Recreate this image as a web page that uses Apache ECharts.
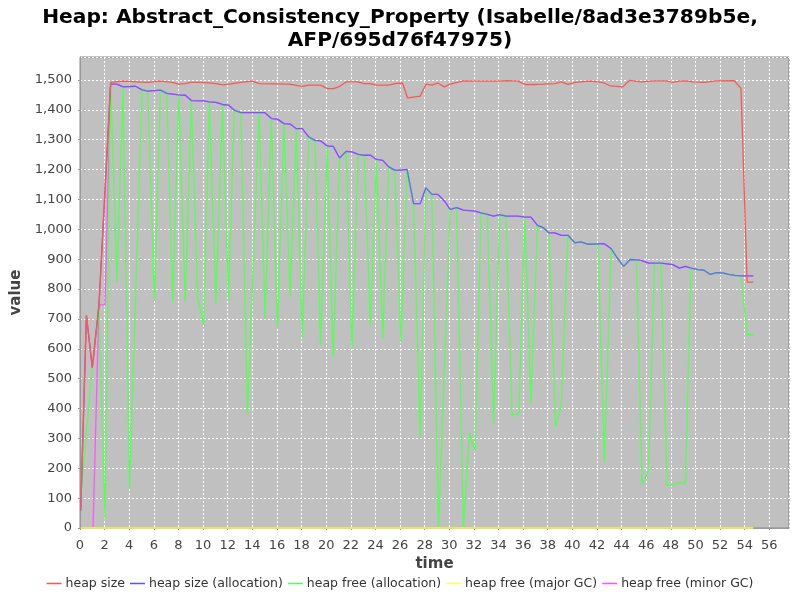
<!DOCTYPE html>
<html>
<head>
    <meta charset="utf-8">
    <title>Heap: Abstract_Consistency_Property</title>
    <script src="https://cdn.jsdelivr.net/npm/echarts@6/dist/echarts.min.js"></script>
    <style>
        html, body { margin: 0; padding: 0; background: #fff; }
    </style>
</head>
<body>
    <div id="main" style="width: 800px;height:600px;"></div>
    <script type="text/javascript">
        // heap size
        var sizeT = [0.06, 0.52, 1.0, 1.54, 2.49, 3.5, 4.5, 5.5, 6.5, 7.5, 8.0, 8.56, 9.0, 10.0, 11.04, 11.6, 12.1, 13.07, 14.0, 14.55,
            16.98, 18.06, 18.6, 19.55, 20.1, 20.6, 21.1, 21.65, 22.5, 23.1, 23.54, 24.08, 25.08, 25.6, 26.2, 26.62, 27.64, 28.1, 28.6, 29.08,
            29.6, 30.07, 31.15, 32.1, 34.0, 34.66, 35.6, 36.14, 36.95, 37.6, 38.58, 39.1, 39.64, 40.2, 41.4, 42.08, 42.6, 43.1, 44.1, 44.65,
            45.6, 46.67, 47.6, 48.16, 48.7, 49.2, 49.8, 50.7, 51.7, 53.15, 53.7, 54.2, 54.7];
        var sizeV = [59, 712, 537, 746, 1492, 1496, 1494, 1492, 1496, 1492, 1486, 1488, 1492, 1492, 1488, 1484, 1486, 1492, 1496, 1488,
            1486, 1479, 1483, 1483, 1471, 1471, 1479, 1494, 1494, 1488, 1488, 1483, 1483, 1488, 1490, 1440, 1446, 1486, 1483, 1490,
            1477, 1486, 1497, 1496, 1496, 1498, 1496, 1485, 1485, 1486, 1488, 1494, 1485, 1492, 1496, 1494, 1490, 1480, 1477, 1499,
            1494, 1497, 1497, 1492, 1496, 1497, 1494, 1492, 1497, 1498, 1472, 823, 823];

        // heap size (allocation)
        var allocT = [0.06, 0.52, 1.0, 1.54, 2.49, 3.0, 3.49, 4.51, 5.05, 5.5, 6.54, 7.05, 8.03, 8.56, 9.05, 10.05, 10.5, 11.04, 11.58, 12.07,
            12.53, 13.07, 15.0, 15.55, 16.04, 16.58, 17.1, 17.58, 18.06, 18.6, 19.09, 19.55, 20.09, 20.57, 21.09, 21.62, 22.1, 22.6, 23.1, 23.6,
            24.08, 24.6, 25.08, 25.57, 26.08, 26.57, 27.1, 27.64, 28.1, 28.59, 29.08, 29.6, 30.07, 30.6, 31.15, 32.1, 32.58, 33.1, 33.6, 34.1,
            34.6, 35.6, 36.14, 36.63, 37.17, 37.63, 38.1, 38.58, 39.1, 39.64, 40.2, 40.68, 41.3, 42.6, 43.16, 43.65, 44.16, 44.7, 45.2, 45.6,
            46.2, 47.2, 48.16, 48.7, 49.18, 49.64, 50.2, 50.7, 51.2, 51.75, 52.2, 52.7, 53.2, 53.7, 54.7];
        var allocV = [59, 712, 537, 746, 1486, 1486, 1477, 1479, 1467, 1463, 1466, 1455, 1450, 1449, 1431, 1430, 1427, 1425, 1418, 1416,
            1399, 1391, 1391, 1371, 1369, 1354, 1352, 1337, 1337, 1309, 1298, 1296, 1279, 1278, 1239, 1261, 1259, 1251, 1248, 1248,
            1234, 1231, 1209, 1198, 1198, 1201, 1086, 1086, 1139, 1117, 1117, 1095, 1067, 1073, 1064, 1061, 1055, 1050, 1044, 1049,
            1044, 1044, 1041, 1041, 1013, 1006, 988, 988, 980, 980, 955, 958, 950, 952, 935, 904, 876, 899, 898, 896,
            887, 887, 882, 870, 876, 870, 865, 863, 849, 855, 854, 849, 846, 844, 844];

        // heap free (allocation)
        var freeT = [0.06, 1.0, 1.54, 2.03, 2.49, 3.0, 3.49, 4.03, 5.04, 5.5, 6.05, 6.54, 7.05, 7.54, 8.03, 8.55, 9.05, 9.56, 10.05, 10.5,
            11.04, 11.58, 12.07, 12.53, 13.07, 13.61, 14.55, 15.04, 15.55, 16.04, 16.58, 17.07, 17.58, 18.06, 18.6, 19.09, 19.55, 20.09, 20.57, 21.09,
            21.62, 22.1, 22.6, 23.1, 23.6, 24.08, 24.6, 25.08, 25.57, 26.08, 26.57, 27.1, 27.64, 28.1, 28.59, 29.13, 30.07, 30.6, 31.15, 31.64,
            32.1, 32.58, 33.1, 33.6, 34.1, 34.6, 35.1, 35.65, 36.14, 36.63, 37.17, 37.63, 38.1, 38.64, 39.1, 39.64, 40.2, 40.68, 41.3, 42.08,
            42.6, 43.16, 43.65, 44.16, 44.7, 45.2, 45.67, 46.2, 46.67, 47.2, 47.7, 48.16, 48.7, 49.18, 49.64, 50.2, 50.7, 51.2, 51.75, 52.2,
            52.7, 53.2, 53.7, 54.2, 54.7];
        var freeV = [103, 537, 746, 31, 1488, 823, 1477, 131, 1466, 1463, 762, 1466, 1455, 754, 1450, 760, 1431, 770, 682, 1427,
            751, 1418, 760, 1399, 1391, 382, 1391, 700, 1371, 673, 1354, 775, 1337, 639, 1309, 1298, 611, 1279, 570, 1239,
            1261, 600, 1251, 1248, 673, 1234, 634, 1209, 1198, 622, 1201, 1086, 304, 1139, 1117, 0, 1067, 1073, 0, 317,
            259, 1055, 1050, 349, 1049, 1044, 379, 382, 1041, 418, 1013, 1006, 988, 340, 410, 980, 955, 958, 950, 952,
            220, 935, 904, 876, 899, 898, 147, 192, 887, 887, 144, 144, 153, 147, 870, 865, 863, 849, 855, 854,
            849, 846, 844, 647, 647];

        // heap free (major GC)
        var majorT = [0.06, 54.7];
        var majorV = [0, 0];

        // heap free (minor GC): first steps, afterwards it lies on the allocation line
        var minorT = [1.06, 1.54, 2.03];
        var minorV = [0, 747, 747];

        var seriesNames = ['heap size', 'heap size (allocation)', 'heap free (allocation)', 'heap free (major GC)', 'heap free (minor GC)'];
        var seriesColors = ['#ff5555', '#5555ff', '#55ff55', '#ffff55', '#ff55ff'];

        function zip(ts, vs) {
            return ts.map(function (t, i) { return [t, vs[i]]; });
        }

        var minorPts = zip(minorT, minorV).concat(zip(allocT, allocV).slice(4));
        var allData = [zip(sizeT, sizeV), zip(allocT, allocV), zip(freeT, freeV), zip(majorT, majorV), minorPts];
        // series 0 is drawn on top, like the original renderer
        var zOrder = [10, 9, 8, 11, 6];
        var opac = [1, 0.8, 1, 1, 1];

        var myChart = echarts.init(document.getElementById('main'));

        var option = {
            animation: false,
            backgroundColor: '#ffffff',
            textStyle: { fontFamily: 'DejaVu Sans' },
            title: {
                left: 'center',
                top: 1,
                text: 'Heap: Abstract_Consistency_Property (Isabelle/8ad3e3789b5e,\nAFP/695d76f47975)',
                textStyle: {
                    fontFamily: 'DejaVu Sans',
                    fontSize: 20.2,
                    fontWeight: 'bold',
                    color: '#000',
                    lineHeight: 23
                }
            },
            legend: {
                bottom: 5,
                left: 'center',
                data: seriesNames,
                icon: 'rect',
                itemWidth: 15,
                itemHeight: 1.5,
                itemGap: 5,
                textStyle: { fontFamily: 'DejaVu Sans', fontSize: 12.5, color: '#333', padding: [0, 0, 0, -1] }
            },
            grid: {
                left: 80,
                right: 11,
                top: 57,
                bottom: 72,
                show: true,
                backgroundColor: '#c0c0c0',
                borderColor: '#888',
                borderWidth: 1
            },
            xAxis: {
                type: 'value',
                min: 0,
                max: 57.6,
                interval: 2,
                offset: 4,
                name: 'time',
                nameLocation: 'middle',
                nameGap: 22,
                nameTextStyle: { fontFamily: 'DejaVu Sans', fontSize: 15, fontWeight: 'bold', color: '#444' },
                axisLine: { show: true, lineStyle: { color: '#999' } },
                axisTick: { show: true, length: 2, lineStyle: { color: '#999' } },
                axisLabel: {
                    color: '#444', fontSize: 13, margin: 7, showMaxLabel: false,
                    formatter: function (v) { return v % 2 === 0 ? String(v) : ''; }
                },
                splitLine: { show: true, lineStyle: { color: '#ffffff', type: [2, 2], width: 1 } }
            },
            yAxis: {
                type: 'value',
                min: 0,
                max: 1577,
                interval: 100,
                offset: 2,
                name: 'value',
                nameLocation: 'middle',
                nameGap: 47,
                nameTextStyle: { fontFamily: 'DejaVu Sans', fontSize: 15, fontWeight: 'bold', color: '#444' },
                axisLine: { show: true, lineStyle: { color: '#999' } },
                axisTick: { show: true, length: 2, lineStyle: { color: '#999' } },
                axisLabel: {
                    color: '#444', fontSize: 13, margin: 6, showMaxLabel: false,
                    formatter: function (v) {
                        return v % 100 === 0 ? v.toLocaleString('en-US') : '';
                    }
                },
                splitLine: { show: true, lineStyle: { color: '#ffffff', type: [2, 2], width: 1 } }
            },
            series: seriesNames.map(function (name, i) {
                return {
                    name: name,
                    type: 'line',
                    data: allData[i],
                    z: zOrder[i],
                    showSymbol: false,
                    symbol: 'none',
                    smooth: false,
                    clip: i !== 3,
                    color: seriesColors[i],
                    lineStyle: { color: seriesColors[i], width: i === 3 ? 1.5 : 1.3, opacity: opac[i] }
                };
            })
        };

        myChart.setOption(option);
    </script>
</body>
</html>
